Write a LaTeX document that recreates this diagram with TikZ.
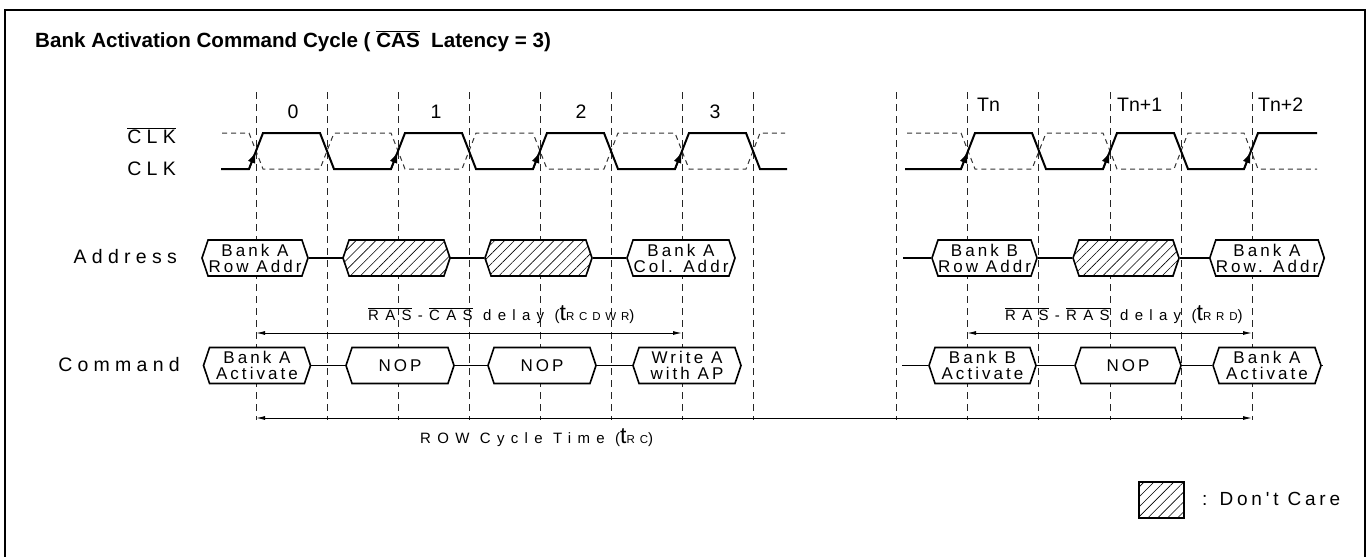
\documentclass[tikz,border=0pt]{standalone}
\usepackage{fontspec}
\setmainfont{Liberation Sans}
\newfontfamily\labfont[LetterSpace=27]{Liberation Sans}
\newfontfamily\boxfont[LetterSpace=18]{Liberation Sans}
\newfontfamily\dlyfont[LetterSpace=42]{Liberation Sans}
\newfontfamily\legfont[LetterSpace=20]{Liberation Sans}
\newfontfamily\numfont{Liberation Sans}
\newfontfamily\ttlfont{Liberation Sans}
\usetikzlibrary{shapes.symbols,patterns.meta,arrows.meta}
\newcommand\ovl[1]{\ensuremath{\overline{\mbox{#1}}}}
\newcommand\bigt{{\fontsize{23}{23}\selectfont t}}
\newcommand\smallsub[1]{{\fontsize{11.5}{12}\selectfont #1}}
\newcommand\hy{\kern0.42em-\kern0.42em}
\begin{document}
\begin{tikzpicture}[x=1pt,y=-1pt,
  grid/.style={line width=0.9pt, dash pattern=on 7pt off 5pt, black!85},
  wave/.style={line width=2pt, line join=miter},
  wavebar/.style={line width=1pt, dash pattern=on 5pt off 4pt, black!80},
  rarr/.style={line width=1.5pt, -{Latex[length=11pt,width=8pt]}},
  sig/.style={signal, signal to=west and east, signal pointer angle=143, draw, line width=1.6pt, fill=white, minimum height=36pt, inner sep=0pt, align=center, font=\boxfont\fontsize{17}{16}\selectfont},
  hatch/.style={sig, preaction={fill=white}, pattern={Lines[angle=45,distance=7pt,line width=0.6pt]}},
  link/.style={line width=1.5pt},
  dim/.style={line width=1pt, {Latex[length=9pt,width=4pt]}-{Latex[length=9pt,width=4pt]}},
  lab/.style={font=\labfont\fontsize{19.5}{20}\selectfont, inner sep=0pt},
  num/.style={font=\numfont\fontsize{19.5}{20}\selectfont, inner sep=0pt},
  dly/.style={font=\dlyfont\fontsize{15}{16}\selectfont, inner sep=0pt}
]
\useasboundingbox (0,0) rectangle (1366,557);
% frame
\draw[line width=2pt] (5,557) -- (5,10) -- (1365,10) -- (1365,557);
% title
\node[font=\ttlfont\bfseries\fontsize{20.6}{23}\selectfont, inner sep=0pt, anchor=base west] (title) at (35,47) {Bank Activation Command Cycle ( \ovl{CAS}\ \ Latency = 3)};
% grid lines
\foreach \x in {256,327,398,469,540,611,682,753,896,967,1038,1110,1181,1252}
  \draw[grid] (\x,92) -- (\x,420);
% clock labels
\node[lab, anchor=base east] (clkb) at (176,143) {\ovl{CLK}};
\node[lab, anchor=base east] (clk) at (176,175) {CLK};
\node[lab, anchor=base east] (addr) at (177,263) {Address};
\node[lab, anchor=base east] (cmd) at (180,371) {Command};
% cycle numbers
\node[num, anchor=base] (n0) at (293,118) {0};
\node[num, anchor=base] (n1) at (436,118) {1};
\node[num, anchor=base] (n2) at (581,118) {2};
\node[num, anchor=base] (n3) at (715,118) {3};
\node[num, anchor=base west] (tn) at (977,111) {Tn};
\node[num, anchor=base west] (tn1) at (1117,111) {Tn+1};
\node[num, anchor=base west] (tn2) at (1258,111) {Tn+2};
% CLK-bar (dashed)
\draw[wavebar] (222,133) -- (249,133) -- (263,169) -- (320,169) -- (334,133) -- (391,133) -- (405,169) -- (462,169) -- (476,133) -- (533,133) -- (547,169) -- (604,169) -- (618,133) -- (675,133) -- (689,169) -- (746,169) -- (760,133) -- (785,133);
\draw[wavebar] (907,133) -- (961,133) -- (975,169) -- (1032,169) -- (1046,133) -- (1103,133) -- (1117,169) -- (1174,169) -- (1188,133) -- (1244,133) -- (1258,169) -- (1317,169);
% CLK (solid)
\draw[wave] (221,169) -- (249,169) -- (263,133) -- (320,133) -- (334,169) -- (391,169) -- (405,133) -- (462,133) -- (476,169) -- (533,169) -- (547,133) -- (604,133) -- (618,169) -- (675,169) -- (689,133) -- (746,133) -- (760,169) -- (787,169);
\draw[wave] (905,169) -- (961,169) -- (975,133) -- (1032,133) -- (1046,169) -- (1103,169) -- (1117,133) -- (1174,133) -- (1188,169) -- (1244,169) -- (1258,133) -- (1317,133);
% rising-edge arrows
\foreach \x in {249,391,533,675,961,1103,1244}
  \draw[rarr] (\x,169) -- ({\x+6.6},152);
% Address row
\node[sig, minimum width=106pt] (a1) at (255,258) {Bank A\\Row Addr};
\node[hatch, minimum width=107pt] (h1) at (396.5,258) {};
\node[hatch, minimum width=107pt] (h2) at (538.5,258) {};
\node[sig, minimum width=108pt] (a2) at (681,258) {Bank A\\Col. Addr};
\draw[link] (a1.east) -- (h1.west);
\draw[link] (h1.east) -- (h2.west);
\draw[link] (h2.east) -- (a2.west);
\coordinate (ars) at (903,258);
\coordinate (are) at (1323,258);
\node[sig, minimum width=105pt] (rb) at (984.5,258) {Bank B\\Row Addr};
\node[hatch, minimum width=106pt] (h3) at (1126,258) {};
\node[sig, minimum width=108pt] (ra) at (1267,258) {Bank A\\Row. Addr};
\draw[link] (ars) -- (rb.west);
\draw[link] (rb.east) -- (h3.west);
\draw[link] (h3.east) -- (ra.west);
\draw[link] (ra.east) -- (are);
% delays
\coordinate (rcd1) at (256,333);
\coordinate (rcd2) at (682,333);
\draw[dim] (rcd1) -- (rcd2);
\node[dly, anchor=base west] (rcdtxt) at (368,320) {\ovl{RAS}\hy\ovl{CAS} delay (\bigt\smallsub{RCDWR})};
\coordinate (rrd1) at (967,333);
\coordinate (rrd2) at (1252,333);
\draw[dim] (rrd1) -- (rrd2);
\node[dly, anchor=base west] (rrdtxt) at (1005,320) {\ovl{RAS}\hy\ovl{RAS} delay (\bigt\smallsub{RRD})};
% Command row
\node[sig, minimum width=107pt] (c1) at (257,365.5) {Bank A\\Activate};
\node[sig, minimum width=108pt] (c2) at (400,365.5) {NOP};
\node[sig, minimum width=108pt] (c3) at (542,365.5) {NOP};
\node[sig, minimum width=108pt] (c4) at (687,365.5) {Write A\\with AP};
\draw[link] (c1.east) -- (c2.west);
\draw[link] (c2.east) -- (c3.west);
\draw[link] (c3.east) -- (c4.west);
\coordinate (crs) at (902,365.5);
\coordinate (cre) at (1323,365.5);
\node[sig, minimum width=107pt] (c5) at (982.5,365.5) {Bank B\\Activate};
\node[sig, minimum width=106pt] (c6) at (1128,365.5) {NOP};
\node[sig, minimum width=108pt] (c7) at (1267,365.5) {Bank A\\Activate};
\draw[link] (crs) -- (c5.west);
\draw[link] (c5.east) -- (c6.west);
\draw[link] (c6.east) -- (c7.west);
\draw[link] (c7.east) -- (cre);
% row cycle
\coordinate (rc1) at (256,418);
\coordinate (rc2) at (1252,418);
\draw[dim] (rc1) -- (rc2);
\node[dly, anchor=base west] (rctxt) at (420,443) {ROW Cycle Time (\bigt\smallsub{RC})};
% legend
\path[draw, line width=1.5pt, preaction={fill=white}, pattern={Lines[angle=45,distance=7pt,line width=0.6pt]}] (1139,482) rectangle (1184,518);
\node[font=\legfont\fontsize{19}{20}\selectfont, inner sep=0pt, anchor=base west] (leg) at (1202,505) {: Don't Care};
\end{tikzpicture}
\end{document}
